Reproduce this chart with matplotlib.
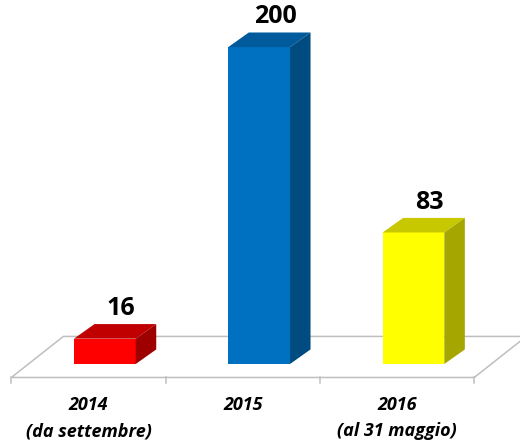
import matplotlib.pyplot as plt
from matplotlib.patches import Polygon

# data
categories = ["2014\n(da settembre)", "2015", "2016\n(al 31 maggio)"]
values = [16, 200, 83]

# front / top / side shades for each bar
front_colors = ["#FF0000", "#0070C0", "#FFFF00"]
top_colors = ["#C00000", "#005A9C", "#C8C800"]
side_colors = ["#9E0000", "#004C80", "#A6A600"]

# 3D look (data units)
BAR_LEFT = -0.094
BAR_W = 0.40
DX, DY = 0.133, 9.2  # bar depth
FLOOR_Y = -8.5
FLOOR_DX, FLOOR_DY = 0.337, 25.9
GRID = "#BFBFBF"

fig = plt.figure(figsize=(5.2, 4.48), dpi=100, facecolor="white")
ax = fig.add_axes([0, 0, 1, 1])
ax.set_xlim(-0.5735, 2.7965)
ax.set_ylim(-53.0, 229.7)
ax.axis("off")

n = len(values)

# floor parallelogram
x0, x1 = -0.5, n - 0.5
floor = Polygon(
    [(x0, FLOOR_Y), (x1, FLOOR_Y), (x1 + FLOOR_DX, FLOOR_Y + FLOOR_DY),
     (x0 + FLOOR_DX, FLOOR_Y + FLOOR_DY)],
    closed=True, facecolor="white", edgecolor=GRID, lw=1.1, zorder=1,
)
ax.add_patch(floor)

# category ticks under the front edge
for k in range(n + 1):
    ax.plot([x0 + k, x0 + k], [FLOOR_Y, FLOOR_Y - 3.2], color=GRID, lw=1.1, zorder=1)

# bars
for i, v in enumerate(values):
    l = i + BAR_LEFT
    r = l + BAR_W
    front = Polygon([(l, 0), (r, 0), (r, v), (l, v)], closed=True,
                    facecolor=front_colors[i], edgecolor="none", zorder=3)
    top = Polygon([(l, v), (r, v), (r + DX, v + DY), (l + DX, v + DY)], closed=True,
                  facecolor=top_colors[i], edgecolor="none", zorder=3)
    side = Polygon([(r, 0), (r + DX, DY), (r + DX, v + DY), (r, v)], closed=True,
                   facecolor=side_colors[i], edgecolor="none", zorder=3)
    for p in (front, top, side):
        ax.add_patch(p)

    # value label
    ax.text(l + BAR_W / 2 + DX * 0.8, v + DY + 2.0, str(v), ha="center", va="bottom",
            fontsize=18, fontweight="bold", family="Open Sans", color="black", zorder=4)

    # category label
    ax.text(i, -20.0, categories[i], ha="center", va="top", fontsize=13,
            fontweight="bold", style="italic", family="Open Sans", color="black",
            linespacing=1.6)

plt.savefig("out.png", dpi=100, facecolor="white")
plt.close()
